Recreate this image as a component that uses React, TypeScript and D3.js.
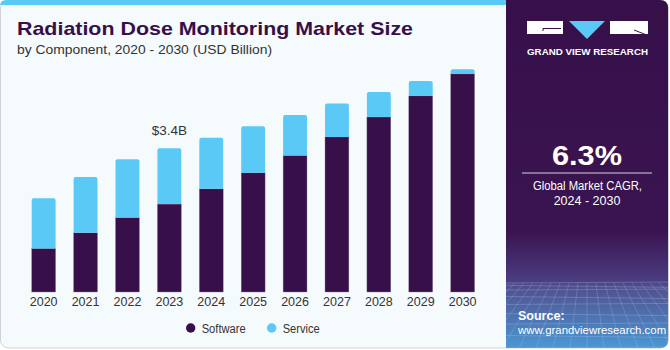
import React from 'react';
import { scaleBand, scaleLinear, range } from 'd3';

// values (USD Billion)
const years = ['2020', '2021', '2022', '2023', '2024', '2025', '2026', '2027', '2028', '2029', '2030'];
const software = [1.03, 1.4, 1.76, 2.08, 2.44, 2.82, 3.23, 3.67, 4.14, 4.64, 5.16];
const service = [1.19, 1.32, 1.38, 1.32, 1.21, 1.1, 0.96, 0.79, 0.59, 0.35, 0.11];
const seriesNames = ['Software', 'Service'];
const seriesColors = ['#37104a', '#5bc9f6'];
const callout = { year: '2023', label: '$3.4B' };

const W = 670;
const H = 350;
const PANEL_X = 506;

const topRounded = (x: number, y: number, w: number, h: number, r: number) => {
  const rr = Math.min(r, h);
  return `M${x},${y + h}V${y + rr}Q${x},${y} ${x + rr},${y}H${x + w - rr}Q${x + w},${y} ${x + w},${y + rr}V${y + h}Z`;
};

export default function App() {
  const x = scaleBand<string>()
    .domain(years)
    .range([22.7, 483.6])
    .paddingInner(0.43)
    .paddingOuter(0.215);
  const y = scaleLinear().domain([0, 6]).range([292, 292 - 6 / 0.02366]);

  const font = '"Liberation Sans", Arial, sans-serif';

  // decorative grid in the lower part of the right panel
  const gridTop = 283;
  const gridBottom = 348;
  const hLines = range(0, 9).map((i) => gridTop + Math.pow(i / 8, 1.6) * (gridBottom - gridTop));
  const vLines = range(-12, 13).map((i) => i);
  const cx = PANEL_X + 81;

  const calloutIdx = years.indexOf(callout.year);
  const calloutTop = y(software[calloutIdx] + service[calloutIdx]);
  const legendX = [190.7, 271.7];
  const legendW = [44, 37];

  return (
    <svg width={W} height={H} style={{ position: 'absolute', left: 0, top: 0, fontFamily: font }}>
      <defs>
        <linearGradient id="panelGrad" x1="0" y1="0" x2="0" y2={H} gradientUnits="userSpaceOnUse">
          <stop offset="0" stopColor="#37104a" />
          <stop offset="0.66" stopColor="#3a1450" />
          <stop offset="0.8" stopColor="#4a3c80" />
          <stop offset="0.82" stopColor="#50508e" />
          <stop offset="1" stopColor="#4b9ad6" />
        </linearGradient>
        <clipPath id="panelClip">
          <path d={`M${PANEL_X},0H${W - 10}Q${W - 2},0 ${W - 2},8V${H - 10}Q${W - 2},${H - 2} ${W - 10},${H - 2}H${PANEL_X}Z`} />
        </clipPath>
      </defs>

      {/* card */}
      <rect x={0.5} y={0.5} width={W - 2} height={H - 2.5} rx={8} fill="#f5fafd" stroke="#cfd3d6" />
      <path d={`M0,5V6Q0,0 6,0H${PANEL_X}V5Z`} fill="#5bc9f6" />

      {/* right panel */}
      <g clipPath="url(#panelClip)">
        <rect x={PANEL_X} y={0} width={W - PANEL_X} height={H} fill="url(#panelGrad)" />
        {hLines.map((hy, i) => (
          <line key={`h${i}`} x1={PANEL_X} x2={W} y1={hy} y2={hy + (i % 2 ? 2 : -1)} stroke="#b8c8f0" strokeOpacity={0.35} strokeWidth={0.8} />
        ))}
        {vLines.map((v) => (
          <line key={`v${v}`} x1={cx + v * 9} y1={gridTop} x2={cx + v * 17} y2={gridBottom} stroke="#b8c8f0" strokeOpacity={0.3} strokeWidth={0.8} />
        ))}
      </g>

      {/* logo */}
      <rect x={527} y={21} width={36} height={13} fill="#ffffff" />
      <path d="M543,31V28.5M543,28.5H561" stroke="#37104a" strokeWidth={1} fill="none" />
      <path d="M569,21H605L587,39Z" fill="#5bc9f6" />
      <rect x={610} y={21} width={38} height={13} fill="#ffffff" />
      <path d="M634,30L648,35.5" stroke="#37104a" strokeWidth={1} />
      <text x={527} y={55} fill="#ffffff" fontSize={9.6} fontWeight="bold" textLength={121} lengthAdjust="spacingAndGlyphs">
        GRAND VIEW RESEARCH
      </text>

      <text x={552} y={165} fill="#ffffff" fontSize={27} fontWeight="bold" textLength={70} lengthAdjust="spacingAndGlyphs">
        6.3%
      </text>
      <line x1={522} x2={652} y1={173} y2={173} stroke="#d8d0e0" strokeWidth={1} />
      <text x={533} y={190} fill="#ffffff" fontSize={12.5} textLength={109} lengthAdjust="spacingAndGlyphs">
        Global Market CAGR,
      </text>
      <text x={587} y={205} textAnchor="middle" fill="#ffffff" fontSize={12.5}>
        2024 - 2030
      </text>

      <text x={518} y={320} fill="#ffffff" fontSize={12.5} fontWeight="bold">
        Source:
      </text>
      <text x={518} y={334} fill="#ffffff" fontSize={11.4}>
        www.grandviewresearch.com
      </text>

      {/* titles */}
      <text x={17} y={35} fill="#37104a" fontSize={19} fontWeight="bold" textLength={396} lengthAdjust="spacingAndGlyphs">
        Radiation Dose Monitoring Market Size
      </text>
      <text x={17} y={54} fill="#333333" fontSize={13} textLength={255} lengthAdjust="spacingAndGlyphs">
        by Component, 2020 - 2030 (USD Billion)
      </text>

      {/* bars */}
      {years.map((yr, i) => {
        const bx = x(yr) as number;
        const bw = x.bandwidth();
        const swTop = y(software[i]);
        const tot = y(software[i] + service[i]);
        return (
          <g key={yr}>
            <rect x={bx} y={swTop} width={bw} height={y(0) - swTop} fill={seriesColors[0]} stroke="#8a7a98" strokeWidth={0.4} />
            <path d={topRounded(bx, tot, bw, swTop - tot, 2)} fill={seriesColors[1]} />
            <text x={bx + bw / 2} y={306} textAnchor="middle" fill="#333333" fontSize={12.5}>
              {yr}
            </text>
          </g>
        );
      })}

      <text x={(x(callout.year) as number) + x.bandwidth() / 2} y={calloutTop - 13} textAnchor="middle" fill="#333333" fontSize={13.5}>
        {callout.label}
      </text>

      {/* legend */}
      {seriesNames.map((name, i) => (
        <g key={name}>
          <circle cx={legendX[i]} cy={328} r={4.7} fill={seriesColors[i]} />
          <text x={legendX[i] + 11} y={332.5} fill="#333333" fontSize={12.5} textLength={legendW[i]} lengthAdjust="spacingAndGlyphs">
            {name}
          </text>
        </g>
      ))}
    </svg>
  );
}
